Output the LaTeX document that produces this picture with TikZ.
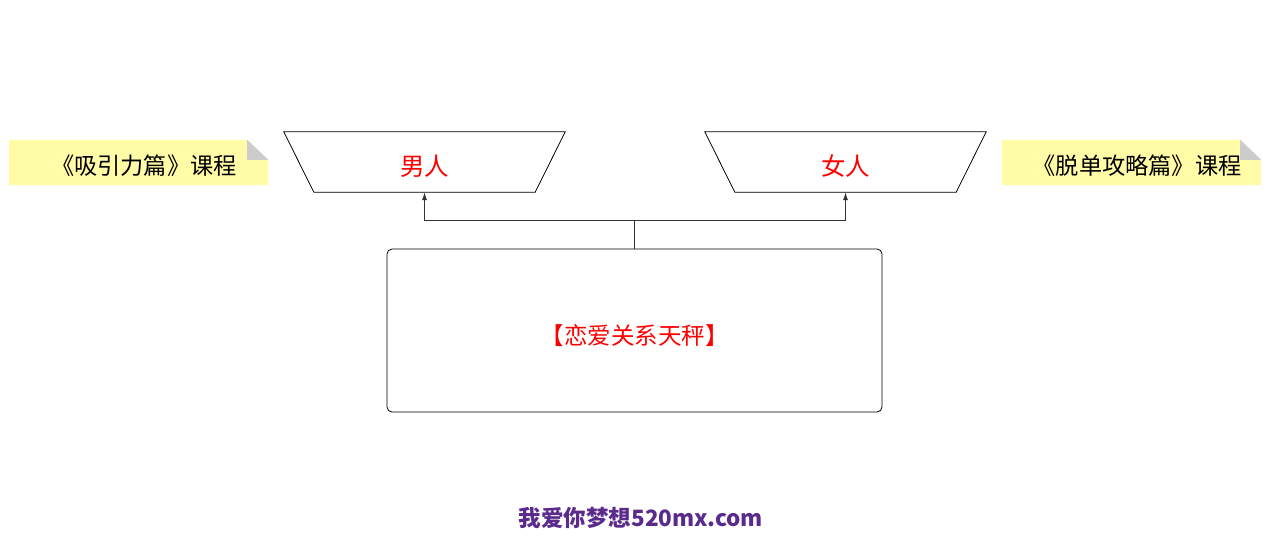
\documentclass[tikz,border=0pt]{standalone}
\usepackage{fontspec}
\setmainfont{Noto Sans CJK SC}
\usepackage{xcolor}
\usepackage{tikz}
\usetikzlibrary{arrows,arrows.meta,shapes,positioning,backgrounds}

\definecolor{notefill}{HTML}{FFFBA6}
\definecolor{foldgray}{HTML}{CCCCCC}
\definecolor{siteviolet}{HTML}{5A2A8C}

\newcommand{\lowertext}[2]{\raisebox{-#1}[\height][\depth]{#2}}

\tikzset{
    scalepan/.style={minimum width=281pt, minimum height=60pt, inner sep=0pt,
        text=red, font=\fontsize{24.5}{24.5}\selectfont},
    notebox/.style={minimum width=259pt, minimum height=45pt, inner sep=0pt,
        font=\fontsize{23.2}{23.2}\selectfont},
}

\begin{document}
\begin{tikzpicture}[x=1pt,y=-1pt]
        \useasboundingbox (0,0) rectangle (1283,556);

        \node[scalepan] (man) at (424.5,162) {\lowertext{4pt}{男人}} ;
        \node[scalepan] (woman) at (845.5,162) {\lowertext{4pt}{女人}} ;
        \foreach \n in {man, woman}
            \draw[thick] (\n.north west) -- (\n.north east) -- ([xshift=-30pt]\n.south east)
                -- ([xshift=30pt]\n.south west) -- cycle ;

        \node[draw, thick, rounded corners=5pt, minimum width=495pt, minimum height=163pt,
            text=red, font=\fontsize{23.5}{23.5}\selectfont] (balance) at (634.5,330.5) {\lowertext{5pt}{【恋爱关系天秤】}} ;

        \node[notebox] (attract) at (138.5,162.5) {\hspace*{11pt}\lowertext{3pt}{《吸引力篇》课程}} ;
        \node[notebox] (single) at (1131.5,162.5) {\hspace*{11pt}\lowertext{3pt}{《脱单攻略篇》课程}} ;

        \begin{scope}[on background layer]
            \foreach \n in {attract, single} {
                \fill[notefill] (\n.south west) -- (\n.north west) -- ([xshift=-21pt]\n.north east)
                    -- ([yshift=-20pt]\n.north east) -- (\n.south east) -- cycle ;
                \fill[foldgray] ([xshift=-21pt]\n.north east) -- ([yshift=-20pt]\n.north east)
                    -- ([xshift=-21pt,yshift=-20pt]\n.north east) -- cycle ;
            }
        \end{scope}

        \coordinate (fork) at (balance.north |- 0,220) ;
        \draw[thick, black!80] (balance.north) -- (fork) ;
        \draw[thick, black!80, ->, >={Latex[length=8pt,width=5pt]}] (fork) -| (man.south) ;
        \draw[thick, black!80, ->, >={Latex[length=8pt,width=5pt]}] (fork) -| (woman.south) ;

        \node[text=siteviolet, font=\fontsize{22.5}{22.5}\selectfont\bfseries] (site) at (641,518) {我爱你梦想520mx.com} ;
    \end{tikzpicture}
\end{document}
